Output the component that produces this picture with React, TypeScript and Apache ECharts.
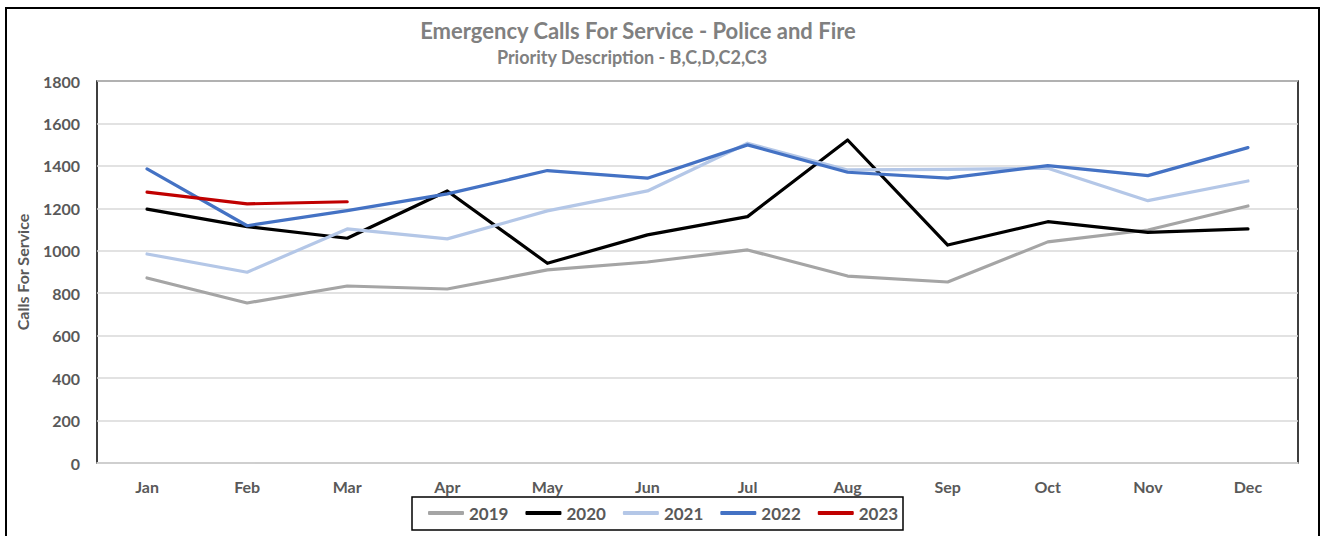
import React, { useEffect, useRef } from "react";
import * as echarts from "echarts";

const months = ["Jan", "Feb", "Mar", "Apr", "May", "Jun", "Jul", "Aug", "Sep", "Oct", "Nov", "Dec"];
const years = ["2019", "2020", "2021", "2022", "2023"];
const v2019 = [872, 754, 834, 820, 910, 947, 1004, 881, 853, 1042, 1098, 1211];
const v2020 = [1196, 1114, 1059, 1282, 941, 1075, 1161, 1522, 1027, 1137, 1087, 1103];
const v2021 = [985, 899, 1103, 1056, 1188, 1282, 1507, 1381, 1384, 1389, 1236, 1329];
const v2022 = [1386, 1118, 1189, 1268, 1378, 1342, 1499, 1370, 1342, 1401, 1354, 1486];
const v2023 = [1276, 1221, 1231];
const seriesValues = [v2019, v2020, v2021, v2022, v2023];
const colors = ["#A5A5A5", "#000000", "#B4C7E7", "#4472C4", "#C00000"];

const FONT = "Lato, 'Open Sans', sans-serif";

export default function App() {
  const ref = useRef<HTMLDivElement>(null);
  useEffect(() => {
    if (!ref.current) return;
    const chart = echarts.init(ref.current, null, { renderer: "svg" });
    chart.setOption({
      animation: false,
      backgroundColor: "#ffffff",
      textStyle: { fontFamily: FONT },
      title: [
        {
          text: "Emergency Calls For Service - Police and Fire",
          left: 638,
          top: 19,
          padding: 0,
          textAlign: "center",
          textStyle: { fontFamily: FONT, fontSize: 22, fontWeight: "bold", color: "#808080" },
        },
        {
          text: "Priority Description - B,C,D,C2,C3",
          left: 632,
          top: 48,
          padding: 0,
          textAlign: "center",
          textStyle: { fontFamily: FONT, fontSize: 18, fontWeight: "bold", color: "#808080" },
        },
      ],
      graphic: [
        {
          type: "rect",
          shape: { x: 6, y: 8, width: 1313, height: 560 },
          style: { fill: "none", stroke: "#000", lineWidth: 2 },
          silent: true,
          z: 0,
        },
        {
          type: "rect",
          shape: { x: 412, y: 497, width: 491, height: 33 },
          style: { fill: "none", stroke: "#000", lineWidth: 1.5 },
          silent: true,
          z: 0,
        },
      ],
      legend: {
        data: years,
        left: 428,
        top: 504,
        padding: 0,
        itemGap: 17,
        itemWidth: 36,
        itemHeight: 4,
        icon: "roundRect",
        textStyle: { fontFamily: FONT, fontSize: 17, fontWeight: "bold", color: "#595959", lineHeight: 18 },
      },
      grid: {
        left: 97,
        top: 81,
        right: 26,
        bottom: 73,
        show: true,
        borderColor: "#000",
        borderWidth: 1.5,
        containLabel: false,
      },
      xAxis: {
        type: "category",
        data: months,
        boundaryGap: true,
        axisLine: { show: true, lineStyle: { color: "#d9d9d9", width: 1.5 } },
        axisTick: { show: false },
        axisLabel: { margin: 15, fontFamily: FONT, fontSize: 16, fontWeight: "bold", color: "#595959" },
      },
      yAxis: {
        type: "value",
        min: 0,
        max: 1800,
        interval: 200,
        name: "Calls For Service",
        nameLocation: "middle",
        nameGap: 67,
        nameRotate: 90,
        nameTextStyle: { fontFamily: FONT, fontSize: 16, fontWeight: "bold", color: "#595959" },
        axisLine: { show: false },
        axisTick: { show: false },
        axisLabel: {
          margin: 17,
          fontFamily: FONT,
          fontSize: 16,
          fontWeight: "bold",
          color: "#595959",
          formatter: (v: number) => String(v),
        },
        splitLine: { lineStyle: { color: "#d9d9d9", width: 1.5 } },
      },
      series: years.map((y, i) => ({
        name: y,
        type: "line",
        data: seriesValues[i],
        symbol: "none",
        color: colors[i],
        lineStyle: { width: 3.2, color: colors[i], cap: "round", join: "round" },
        z: 2 + i,
      })),
    });
    return () => chart.dispose();
  }, []);
  return (
    <div
      ref={ref}
      style={{ position: "fixed", left: 0, top: 0, width: 1324, height: 536 }}
    />
  );
}
